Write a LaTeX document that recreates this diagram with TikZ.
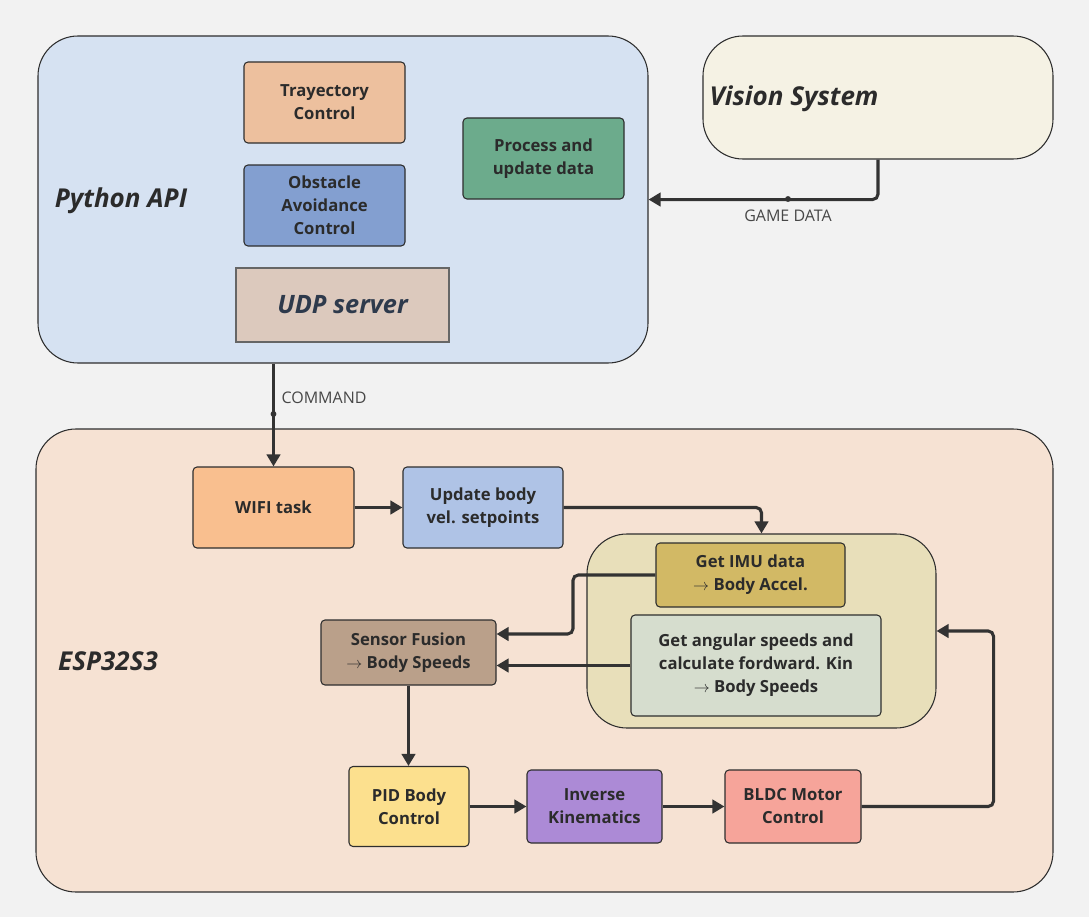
\documentclass[tikz,border=0pt]{standalone}
\usepackage{fontspec}
\setmainfont{Open Sans}
\usetikzlibrary{arrows.meta}
\definecolor{bgc}{HTML}{F2F2F2}
\definecolor{pyfill}{HTML}{D6E2F2}
\definecolor{visfill}{HTML}{F5F2E4}
\definecolor{espfill}{HTML}{F6E2D3}
\definecolor{imugrp}{HTML}{E8DFBA}
\definecolor{trajc}{HTML}{EDC09E}
\definecolor{obstc}{HTML}{839FD0}
\definecolor{udpc}{HTML}{DCC9BD}
\definecolor{udptxt}{HTML}{2E3A4C}
\definecolor{procc}{HTML}{6CAB8C}
\definecolor{wific}{HTML}{F9BF8F}
\definecolor{updc}{HTML}{AFC3E6}
\definecolor{imuc}{HTML}{D2B965}
\definecolor{angc}{HTML}{D6DDCE}
\definecolor{fusc}{HTML}{BAA08A}
\definecolor{pidc}{HTML}{FCE08E}
\definecolor{invc}{HTML}{AC8AD6}
\definecolor{bldcc}{HTML}{F6A49A}
\definecolor{edge}{HTML}{2E2E2E}
\definecolor{wire}{HTML}{333333}
\definecolor{txt}{HTML}{2B2B2B}
\begin{document}
\begin{tikzpicture}[x=0.75pt, y=-0.75pt, thick,
  every node/.style={text=txt, align=center, inner sep=0pt},
  sz/.style 2 args={minimum width=#1*0.75pt, minimum height=#2*0.75pt},
  blk/.style={draw=edge, line width=0.8pt, rounded corners=3pt, font=\bfseries\fontsize{12.5}{17.3}\selectfont},
  grp/.style={draw=edge, line width=0.8pt, rounded corners=30pt},
  title/.style={font=\bfseries\itshape\fontsize{19.5}{22}\selectfont},
  link/.style={draw=wire, line width=2.3pt, rounded corners=4pt, -{Triangle[length=9pt,width=10pt]}},
  lab/.style={font=\fontsize{12}{14}\selectfont, text=black!72}]
\fill[bgc] (0,0) rectangle (1089,917);
\useasboundingbox (0,0) rectangle (1089,917);

% containers
\node[grp, fill=pyfill, sz={610}{327}] (py) at (343,199.5) {};
\node[grp, fill=visfill, sz={350}{123}] (vis) at (878,97.5) {};
\node[grp, fill=espfill, sz={1017}{463}] (esp) at (544.5,660.5) {};
\node[grp, fill=imugrp, sz={349}{194}] (sens) at (761.5,631) {};
\node[title] (pylab) at (121,201) {Python API};
\node[title, anchor=west] (vislab) at (709,99) {Vision System};
\node[title] (esplab) at (108,661) {ESP32S3};

% python side
\node[blk, fill=trajc, sz={161}{81}] (traj) at (324.5,102.5) {Trayectory\\Control};
\node[blk, fill=obstc, sz={161}{81}] (obst) at (324.5,205.5) {Obstacle\\Avoidance\\Control};
\node[draw=black!60, line width=0.8pt, fill=udpc, sz={213}{74}, title, font=\bfseries\itshape\fontsize{19}{22}\selectfont, text=udptxt] (udp) at (342.5,305) {UDP server};
\node[blk, fill=procc, sz={161}{81}] (proc) at (543.5,158.5) {Process and\\update data};

% esp side
\node[blk, fill=wific, sz={161}{81}] (wifi) at (273.5,507.5) {WIFI task};
\node[blk, fill=updc, sz={160}{81}] (upd) at (483,507.5) {Update body\\vel. setpoints};
\node[blk, fill=imuc, sz={189}{64}] (imu) at (750.5,575) {Get IMU data\\$\rightarrow$ Body Accel.};
\node[blk, fill=angc, sz={250}{101}] (ang) at (756,665.5) {Get angular speeds and\\calculate fordward. Kin\\$\rightarrow$ Body Speeds};
\node[blk, fill=fusc, sz={175}{65}] (fus) at (408.5,652.5) {Sensor Fusion\\$\rightarrow$ Body Speeds};
\node[blk, fill=pidc, sz={120}{80}] (pid) at (409,806.5) {PID Body\\Control};
\node[blk, fill=invc, sz={135}{73}] (inv) at (594.5,806.5) {Inverse\\Kinematics};
\node[blk, fill=bldcc, sz={136}{73}] (bldc) at (793,806.5) {BLDC Motor\\Control};

% connectors
\draw[link] (vis.south) |- (py.east |- proc.south);
\coordinate (gd) at (788,199);
\fill[wire] (gd) circle (2.2pt);
\node[lab, below=8pt] at (gd) {GAME DATA};
\draw[link] (py.south -| wifi.north) -- (wifi.north);
\coordinate (cmd) at (273.5,414);
\fill[wire] (cmd) circle (2.2pt);
\node[lab, anchor=west] at (281,398) {COMMAND};
\draw[link] (wifi) -- (upd);
\draw[link] (upd.east) -| (sens.north);
\coordinate (imuturn) at (573,634);
\draw[link] (imu.west) -| (imuturn) -- (imuturn -| fus.east);
\draw[link] (ang.west) -- (ang.west -| fus.east);
\draw[link] (fus.south) -- (fus.south |- pid.north);
\draw[link] (pid.east) -- (pid.east -| inv.west);
\draw[link] (inv) -- (bldc);
\draw[link] (bldc.east) -- ++(132,0) |- (sens.east);
\end{tikzpicture}
\end{document}
